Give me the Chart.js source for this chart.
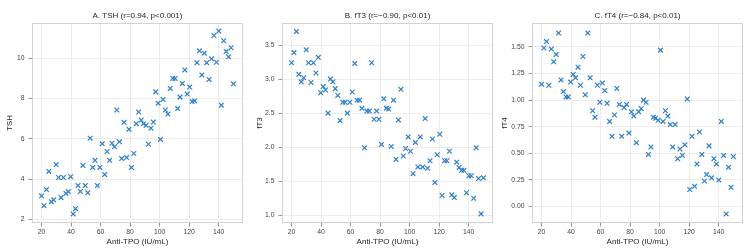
<!DOCTYPE html>
<html>
<head>
<meta charset="utf-8">
<script src="https://cdn.jsdelivr.net/npm/chart.js@4"></script>
<style>
  html, body { margin: 0; padding: 0; background: #ffffff; }
  #wrap { position: relative; width: 750px; height: 250px; }
  canvas { position: absolute; top: 0; }
</style>
</head>
<body>
<div id="wrap">
  <canvas id="chartTsh" width="250" height="250" style="left:0px"></canvas>
  <canvas id="chartFt3" width="250" height="250" style="left:250px"></canvas>
  <canvas id="chartFt4" width="250" height="250" style="left:500px"></canvas>
</div>
<script>
// Anti-TPO vs thyroid markers - three scatter panels

const antiTpo = [
  20.0, 21.6, 23.3, 24.9, 26.6, 28.2, 29.9, 31.5, 33.2, 34.8,
  36.5, 38.1, 39.7, 41.4, 43.0, 44.7, 46.3, 48.0, 49.6, 51.3,
  52.9, 54.6, 56.2, 57.8, 59.5, 61.1, 62.8, 64.4, 66.1, 67.7,
  69.4, 71.0, 72.7, 74.3, 75.9, 77.6, 79.2, 80.9, 82.5, 84.2,
  85.8, 87.5, 89.1, 90.8, 92.4, 94.1, 95.7, 97.3, 99.0, 100.6,
  102.3, 103.9, 105.6, 107.2, 108.9, 110.5, 112.2, 113.8, 115.4, 117.1,
  118.7, 120.4, 122.0, 123.7, 125.3, 127.0, 128.6, 130.3, 131.9, 133.5,
  135.2, 136.8, 138.5, 140.1, 141.8, 143.4, 145.1, 146.7, 148.4, 150.0,
];

const tsh = [
  3.17, 2.68, 3.48, 4.38, 2.88, 2.97, 4.72, 4.08, 3.08, 4.08,
  3.28, 3.38, 4.12, 2.27, 2.53, 3.68, 3.38, 4.68, 3.68, 3.32,
  6.03, 4.58, 4.93, 3.68, 4.58, 5.75, 4.23, 5.37, 4.93, 5.78,
  5.6, 7.43, 5.85, 5.02, 6.82, 5.07, 6.48, 4.58, 5.27, 6.75,
  7.33, 6.93, 6.75, 6.67, 5.73, 6.53, 6.83, 8.33, 7.77, 5.97,
  7.95, 7.43, 7.23, 8.5, 9.0, 9.0, 7.5, 8.07, 8.75, 9.42,
  8.22, 8.57, 7.85, 7.88, 9.78, 10.37, 9.17, 10.25, 9.78, 8.95,
  9.97, 11.13, 9.8, 11.35, 7.67, 10.87, 10.33, 10.07, 10.52, 8.73,
];

const ft3 = [
  3.24, 3.39, 3.70, 3.07, 2.96, 3.02, 3.43, 3.24, 2.95, 3.24,
  3.09, 3.32, 2.80, 2.89, 2.84, 2.50, 3.00, 2.96, 2.86, 2.76,
  2.39, 2.66, 2.66, 2.50, 2.66, 2.81, 3.23, 2.69, 2.69, 2.57,
  1.99, 2.53, 2.53, 3.24, 2.41, 2.53, 2.41, 2.04, 2.71, 2.57,
  2.56, 2.01, 2.69, 1.82, 2.40, 2.85, 1.87, 1.98, 2.15, 1.94,
  1.61, 2.07, 1.71, 2.15, 1.71, 2.42, 1.69, 1.80, 2.12, 1.48,
  1.89, 2.19, 1.29, 1.80, 1.80, 1.94, 1.30, 1.26, 1.78, 1.70,
  1.66, 1.66, 1.33, 1.58, 1.58, 1.25, 1.99, 1.54, 1.02, 1.55,
];

const ft4 = [
  1.15, 1.49, 1.55, 1.14, 1.48, 1.36, 1.43, 1.63, 1.19, 1.08,
  1.03, 1.03, 1.17, 1.24, 1.21, 1.31, 1.14, 1.41, 1.05, 1.63,
  1.21, 0.90, 0.84, 1.14, 0.98, 1.16, 1.09, 0.97, 0.80, 0.66,
  0.86, 1.11, 0.96, 0.66, 0.93, 0.96, 0.69, 0.89, 0.85, 0.60,
  0.89, 0.92, 1.00, 0.98, 0.49, 0.56, 0.84, 0.83, 0.81, 1.47,
  0.80, 0.90, 0.85, 0.77, 0.56, 0.77, 0.45, 0.54, 0.48, 0.58,
  1.01, 0.16, 0.66, 0.19, 0.40, 0.70, 0.49, 0.24, 0.30, 0.57,
  0.27, 0.45, 0.40, 0.25, 0.80, 0.48, -0.07, 0.37, 0.18, 0.47,
];

const xTicks = [20, 40, 60, 80, 100, 120, 140];
const tshTicks = [2, 4, 6, 8, 10];
const ft3Ticks = [1.0, 1.5, 2.0, 2.5, 3.0, 3.5];
const ft4Ticks = [0.0, 0.25, 0.5, 0.75, 1.0, 1.25, 1.5];

const FONT = "'Liberation Sans', Arial, sans-serif";
const MARKER = "#2f80c8";
const GRID = "#e8e8e8";

// light frame round the plot area, like the seaborn whitegrid box
const framePlugin = {
  id: "frame",
  afterDraw(chart) {
    const a = chart.chartArea;
    const ctx = chart.ctx;
    ctx.save();
    ctx.strokeStyle = "#d2d2d2";
    ctx.lineWidth = 1;
    ctx.strokeRect(a.left + 0.5, a.top + 0.5, a.right - a.left - 1, a.bottom - a.top - 1);
    ctx.restore();
  },
};

function createPanel(canvasId, title, yLabel, values, ticks, decimals, yMin, yMax, yTitlePad) {
  const ctx = document.getElementById(canvasId);

  return new Chart(ctx.getContext("2d"), {
    type: "scatter",
    data: {
      datasets: [
        {
          data: antiTpo.map((x, i) => ({ x: x, y: values[i] })),
          pointStyle: "crossRot",
          pointRadius: 3.3,
          pointHoverRadius: 3.3,
          borderWidth: 1.2,
          borderColor: MARKER,
          backgroundColor: MARKER,
        },
      ],
    },
    plugins: [framePlugin],
    options: {
      responsive: false,
      animation: false,
      devicePixelRatio: 1,
      layout: { padding: { left: 0, right: 7, top: 0, bottom: 0 } },
      plugins: {
        legend: { display: false },
        tooltip: { enabled: false },
        title: {
          display: true,
          text: title,
          fullSize: false,
          color: "#262626",
          font: { family: FONT, size: 8, weight: "normal" },
          padding: { top: 11, bottom: 2.4 },
        },
      },
      scales: {
        x: {
          type: "linear",
          min: 13.5,
          max: 156.5,
          afterBuildTicks: (axis) => {
            axis.ticks = xTicks.map((v) => ({ value: v }));
          },
          afterFit: (scale) => {
            scale.height = 27;
          },
          grid: { color: GRID, lineWidth: 0.8, tickLength: 3.5, tickColor: "#777", tickWidth: 0.8 },
          border: { display: false },
          ticks: {
            color: "#444",
            padding: 2,
            maxRotation: 0,
            font: { family: FONT, size: 6.8 },
          },
          title: {
            display: true,
            text: "Anti-TPO (IU/mL)",
            color: "#262626",
            font: { family: FONT, size: 8 },
            padding: { top: 0, bottom: 3 },
          },
        },
        y: {
          type: "linear",
          min: yMin,
          max: yMax,
          afterBuildTicks: (axis) => {
            axis.ticks = ticks.map((v) => ({ value: v }));
          },
          afterFit: (scale) => {
            scale.width = 32;
          },
          grid: { color: GRID, lineWidth: 0.8, tickLength: 3.5, tickColor: "#777", tickWidth: 0.8 },
          border: { display: false },
          ticks: {
            color: "#444",
            padding: 4,
            font: { family: FONT, size: 6.8 },
            callback: function (value) {
              return value.toFixed(decimals);
            },
          },
          title: {
            display: true,
            text: yLabel,
            color: "#262626",
            font: { family: FONT, size: 8 },
            padding: { top: yTitlePad, bottom: 0 },
          },
        },
      },
    },
  });
}

createPanel("chartTsh", "A. TSH (r=0.94, p<0.001)", "TSH", tsh, tshTicks, 0, 1.82, 11.75, 5);
createPanel("chartFt3", "B. fT3 (r=\u22120.90, p<0.01)", "fT3", ft3, ft3Ticks, 1, 0.886, 3.824, 5);
createPanel("chartFt4", "C. fT4 (r=\u22120.84, p<0.01)", "fT4", ft4, ft4Ticks, 2, -0.155, 1.725, 0);
</script>
</body>
</html>
